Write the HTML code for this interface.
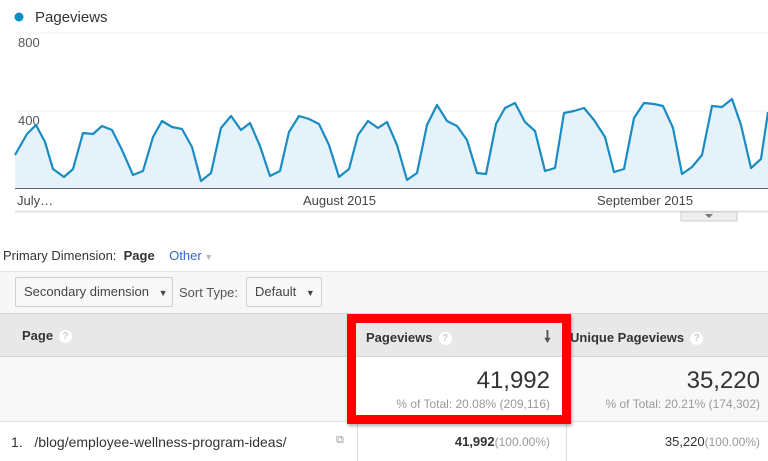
<!DOCTYPE html>
<html><head><meta charset="utf-8"><style>
*{margin:0;padding:0;box-sizing:border-box}
body{width:768px;height:461px;overflow:hidden;background:#fff;font-family:"Liberation Sans",Arial,sans-serif;position:relative;color:#333}
.a{position:absolute;white-space:nowrap}
.q{display:inline-block;width:13px;height:13px;border-radius:50%;background:#fff;color:#ccc;font-size:10px;text-align:center;line-height:13px;vertical-align:middle;margin-left:6px;font-weight:bold}
.btn{position:absolute;border:1px solid #d0d0d0;border-radius:2px;background:#f8f8f8;font-size:13px;color:#444;line-height:28px;padding-left:8px}
</style></head><body>
<svg class="a" style="left:0;top:0" width="768" height="230">
<circle cx="19" cy="17" r="4.5" fill="#058dc7"/>
<text x="35" y="22" font-size="15" fill="#333" font-family="Liberation Sans">Pageviews</text>
<line x1="15" y1="33" x2="768" y2="33" stroke="#eee"/>
<line x1="15" y1="111" x2="768" y2="111" stroke="#eee"/>
<text x="18" y="47" font-size="13" fill="#555" font-family="Liberation Sans">800</text>
<text x="18" y="125" font-size="13" fill="#555" font-family="Liberation Sans">400</text>
<polygon fill="#e6f2f9" points="15,188 15,155 27,134 36,125 45,142 53,169 64,177 73,169 83,133 93,134 102,126 112,130 122,150 133,175 143,171 153,137 162,121 172,127 182,129 192,147 201,181 211,173 221,128 231,116 241,130 250,123 260,146 270,176 280,171 289,132 299,116 309,119 319,124 329,145 339,177 349,169 358,135 368,121 378,128 387,122 397,145 407,180 417,173 427,125 437,105 447,121 457,126 467,140 477,173 486,174 496,124 505,108 515,103 525,122 535,131 545,171 555,168 564,113 574,111 584,108 594,120 605,137 614,172 624,169 634,118 644,103 654,104 663,106 673,128 682,174 692,167 702,155 712,106 722,107 732,99 741,125 751,168 761,159 768,112 768,188"/>
<polyline fill="none" stroke="#1a8cc4" stroke-width="2.2" stroke-linejoin="round" points="15,155 27,134 36,125 45,142 53,169 64,177 73,169 83,133 93,134 102,126 112,130 122,150 133,175 143,171 153,137 162,121 172,127 182,129 192,147 201,181 211,173 221,128 231,116 241,130 250,123 260,146 270,176 280,171 289,132 299,116 309,119 319,124 329,145 339,177 349,169 358,135 368,121 378,128 387,122 397,145 407,180 417,173 427,125 437,105 447,121 457,126 467,140 477,173 486,174 496,124 505,108 515,103 525,122 535,131 545,171 555,168 564,113 574,111 584,108 594,120 605,137 614,172 624,169 634,118 644,103 654,104 663,106 673,128 682,174 692,167 702,155 712,106 722,107 732,99 741,125 751,168 761,159 768,112"/>
<line x1="15" y1="188.5" x2="768" y2="188.5" stroke="#666" stroke-width="1"/>
<text x="17" y="205" font-size="13" fill="#444" font-family="Liberation Sans">July…</text>
<text x="303" y="205" font-size="13" fill="#444" font-family="Liberation Sans">August 2015</text>
<text x="597" y="205" font-size="13" fill="#444" font-family="Liberation Sans">September 2015</text>
<line x1="15" y1="211.5" x2="768" y2="211.5" stroke="#ddd" stroke-width="1.5"/>
<rect x="681" y="212" width="56" height="9" fill="#eee" stroke="#ccc"/>
<polygon points="705,214 713,214 709,218" fill="#777"/>
</svg>
<div class="a" style="left:3px;top:248px;font-size:13px;color:#333">Primary Dimension:&nbsp; <b>Page</b> &nbsp; &nbsp;<span style="color:#3366cc">Other</span><span style="color:#bbb;font-size:9px"> ▼</span></div>
<div class="a" style="left:0;top:271px;width:768px;height:42px;background:#f7f7f7;border-top:1px solid #e4e4e4"></div>
<div class="btn" style="left:15px;top:277px;width:158px;height:30px">Secondary dimension <span style="font-size:9px;margin-left:6px">▼</span></div>
<div class="a" style="left:179px;top:285px;font-size:13px;color:#555">Sort Type:</div>
<div class="btn" style="left:246px;top:277px;width:76px;height:30px">Default <span style="font-size:9px;margin-left:6px">▼</span></div>
<div class="a" style="left:0;top:313px;width:768px;height:44px;background:#e8e8e8;border-top:1px solid #d8d8d8;border-bottom:1px solid #d4d4d4"></div>
<div class="a" style="left:22px;top:328px;font-size:13px;font-weight:bold;color:#333">Page<span class="q">?</span></div>
<div class="a" style="left:366px;top:330px;font-size:13px;font-weight:bold;color:#333">Pageviews<span class="q">?</span></div>
<div class="a" style="left:544px;top:326px;font-size:16px;color:#555;font-weight:bold">🠗</div>
<div class="a" style="left:570px;top:330px;font-size:13px;font-weight:bold;color:#333">Unique Pageviews<span class="q">?</span></div>
<div class="a" style="left:0;top:357px;width:768px;height:65px;background:#f8f8f8;border-bottom:1px solid #e2e2e2"></div>
<div class="a" style="left:357px;top:357px;width:209px;height:65px;background:#fff"></div>
<div class="a" style="left:357px;top:422px;width:1px;height:39px;background:#ddd"></div>
<div class="a" style="left:566px;top:422px;width:1px;height:39px;background:#ddd"></div>
<div class="a" style="right:218px;top:367px;font-size:24px;color:#333">41,992</div>
<div class="a" style="right:218px;top:397px;font-size:12px;color:#999">% of Total: 20.08% (209,116)</div>
<div class="a" style="right:8px;top:367px;font-size:24px;color:#333">35,220</div>
<div class="a" style="right:8px;top:397px;font-size:12px;color:#999">% of Total: 20.21% (174,302)</div>
<div class="a" style="left:347px;top:314px;width:224px;height:110px;border:9px solid #f00;box-shadow:1px 2px 3px rgba(0,0,0,.3)"></div>
<div class="a" style="left:11px;top:434px;font-size:14px;color:#333">1.&nbsp;&nbsp; /blog/employee-wellness-program-ideas/</div>
<div class="a" style="left:336px;top:434px;font-size:11px;color:#999">⧉</div>
<div class="a" style="right:218px;top:434px;font-size:13px;color:#333"><b>41,992</b><span style="color:#999;font-size:12px">(100.00%)</span></div>
<div class="a" style="right:8px;top:434px;font-size:13px;color:#333">35,220<span style="color:#999;font-size:12px">(100.00%)</span></div>
</body></html>
